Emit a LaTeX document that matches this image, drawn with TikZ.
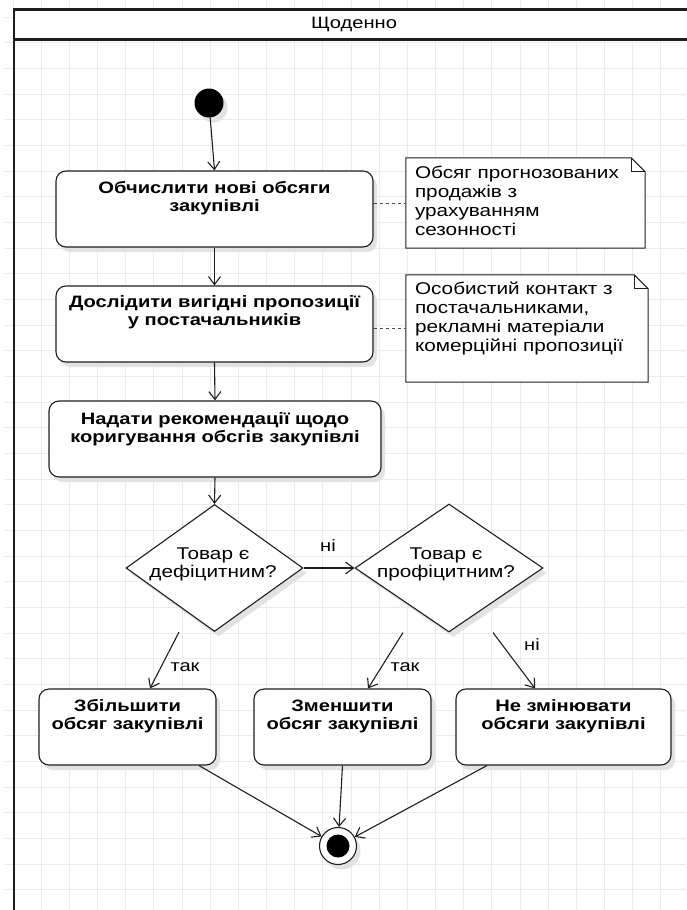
\documentclass[tikz,border=0pt]{standalone}
\usepackage{fontspec}
\setmainfont{Liberation Sans}[FakeStretch=1.22]
\usetikzlibrary{shapes.geometric,shadows,arrows.meta,calc}

\definecolor{ink}{HTML}{1E1E1E}
\definecolor{gridc}{HTML}{EBEBEB}
\definecolor{shade}{HTML}{E2E2E2}

\begin{document}
\begin{tikzpicture}[x=1pt,y=-1pt,
  gridline/.style={draw=gridc, line width=0.9pt},
  lane/.style={draw=ink, line width=2.6pt},
  soft/.style={drop shadow={shadow xshift=4pt, shadow yshift=-5pt, fill=shade, opacity=1}},
  actbox/.style={draw=ink, line width=1.1pt, fill=white, rounded corners=10pt, inner sep=0pt, soft},
  decide/.style={diamond, draw=ink, line width=1.1pt, fill=white, inner sep=0pt, soft},
  boxtext/.style={anchor=north, inner sep=0pt, align=center, font=\fontsize{16.5}{18}\selectfont\bfseries},
  dtext/.style={inner sep=0pt, align=center, font=\fontsize{17}{18}\selectfont},
  notetext/.style={anchor=north west, inner sep=0pt, align=left, font=\fontsize{17}{19}\selectfont},
  guard/.style={inner sep=0pt, font=\fontsize{16.5}{18}\selectfont},
  flow/.style={draw=ink, line width=1.1pt, -{Straight Barb[length=8pt,width=12pt,line width=1.1pt]}},
  notelink/.style={draw=ink!80, line width=0.9pt, dash pattern=on 3pt off 3pt},
]
\useasboundingbox (0,0) rectangle (686,910);
\fill[white] (0,0) rectangle (686,910);

% background grid
\foreach \i in {0,...,24} {
  \draw[gridline] ({13+28.17*\i},0) -- ({13+28.17*\i},910);
}
\foreach \j in {0,...,35} {
  \draw[gridline] (4,{17+25.67*\j}) -- (686,{17+25.67*\j});
}

% swimlane with its header
\fill[white] (14,9.5) rectangle (690,39.5);
\draw[lane] (690,9.5) -- (14,9.5) -- (14,915);
\draw[lane] (14,39.5) -- (690,39.5);
\node[inner sep=0pt, font=\fontsize{16.5}{18}\selectfont] (lanetitle) at (354,24) {Щоденно};

% initial node
\node[circle, fill=black, inner sep=0pt, minimum size=29pt, soft] (start) at (209,103) {};

% actions
\node[actbox, minimum width=317pt, minimum height=76pt] (b1) at (214.5,209) {};
\node[boxtext] at ([yshift=-11pt]b1.north) {Обчислити нові обсяги\\закупівлі};

\node[actbox, minimum width=317pt, minimum height=76pt] (b2) at (214.5,324) {};
\node[boxtext] at ([yshift=-10pt]b2.north) {Дослідити вигідні пропозиції\\у постачальників};

\node[actbox, minimum width=332pt, minimum height=76pt] (b3) at (215,439) {};
\node[boxtext] at ([yshift=-12pt]b3.north) {Надати рекомендації щодо\\коригування обсгів закупівлі};

% notes
\node[inner sep=0pt, minimum width=239pt, minimum height=90pt] (n1) at (525.5,203) {};
\draw[draw=ink, line width=1pt, fill=white]
  (n1.north west) -- ([xshift=-14pt]n1.north east) -- ([yshift=-14pt]n1.north east)
  -- (n1.south east) -- (n1.south west) -- cycle;
\draw[draw=ink, line width=1pt]
  ([xshift=-14pt]n1.north east) -- ([xshift=-14pt,yshift=-14pt]n1.north east) -- ([yshift=-14pt]n1.north east);
\node[notetext] at ([xshift=9pt,yshift=-8pt]n1.north west)
  {Обсяг прогнозованих\\продажів з\\урахуванням\\сезонності};

\node[inner sep=0pt, minimum width=242pt, minimum height=107pt] (n2) at (527,328.5) {};
\draw[draw=ink, line width=1pt, fill=white]
  (n2.north west) -- ([xshift=-14pt]n2.north east) -- ([yshift=-14pt]n2.north east)
  -- (n2.south east) -- (n2.south west) -- cycle;
\draw[draw=ink, line width=1pt]
  ([xshift=-14pt]n2.north east) -- ([xshift=-14pt,yshift=-14pt]n2.north east) -- ([yshift=-14pt]n2.north east);
\node[notetext] at ([xshift=9pt,yshift=-7pt]n2.north west)
  {Особистий контакт з\\постачальниками,\\рекламні матеріали\\комерційні пропозиції};

\draw[notelink] (n1.west -| b1.east) -- (n1.west);
\draw[notelink] (n2.west -| b2.east) -- (n2.west);

% decisions
\node[decide, minimum width=177pt, minimum height=127pt] (d1) at (214.5,568) {};
\node[dtext] at (213,564) {Товар є\\дефіцитним?};
\node[decide, minimum width=188pt, minimum height=128pt] (d2) at (449,568) {};
\node[dtext] at (446,564) {Товар є\\профіцитним?};

% outcomes
\node[actbox, minimum width=177pt, minimum height=76pt] (ba) at (127.5,727) {};
\node[boxtext] at ([yshift=-11pt]ba.north) {Збільшити\\обсяг закупівлі};
\node[actbox, minimum width=177pt, minimum height=76pt] (bb) at (342.5,727) {};
\node[boxtext] at ([yshift=-11pt]bb.north) {Зменшити\\обсяг закупівлі};
\node[actbox, minimum width=215pt, minimum height=76pt] (bc) at (563.5,727) {};
\node[boxtext] at ([yshift=-11pt]bc.north) {Не змінювати\\обсяги закупівлі};

% final node
\node[circle, draw=ink, line width=1.1pt, fill=white, inner sep=0pt, minimum size=37pt, soft] (end) at (338,846) {};
\fill[black] (end.center) circle (11.5pt);

% control flow
\draw[flow] (start) -- (b1.north);
\draw[flow] (b1.south) -- (b2.north);
\draw[flow] (b2.south) -- (b3.north);
\draw[flow] (b3.south) -- (d1.north);
\draw[flow] (d1.east) -- (d2.west);
\draw[flow] ([xshift=-35.5pt]d1.south) -- ([xshift=22.5pt]ba.north);
\draw[flow] ([xshift=-46pt]d2.south) -- ([xshift=25.5pt]bb.north);
\draw[flow] ([xshift=44pt]d2.south) -- ([xshift=-28.5pt]bc.north);
\draw[flow] ([xshift=71.5pt]ba.south) -- (end);
\draw[flow] (bb.south) -- (end);
\draw[flow] ([xshift=-76.5pt]bc.south) -- (end);

% guards
\node[guard] at (328,546) {ні};
\node[guard] at (185,667) {так};
\node[guard] at (405,667) {так};
\node[guard] at (532,645) {ні};
\end{tikzpicture}
\end{document}
